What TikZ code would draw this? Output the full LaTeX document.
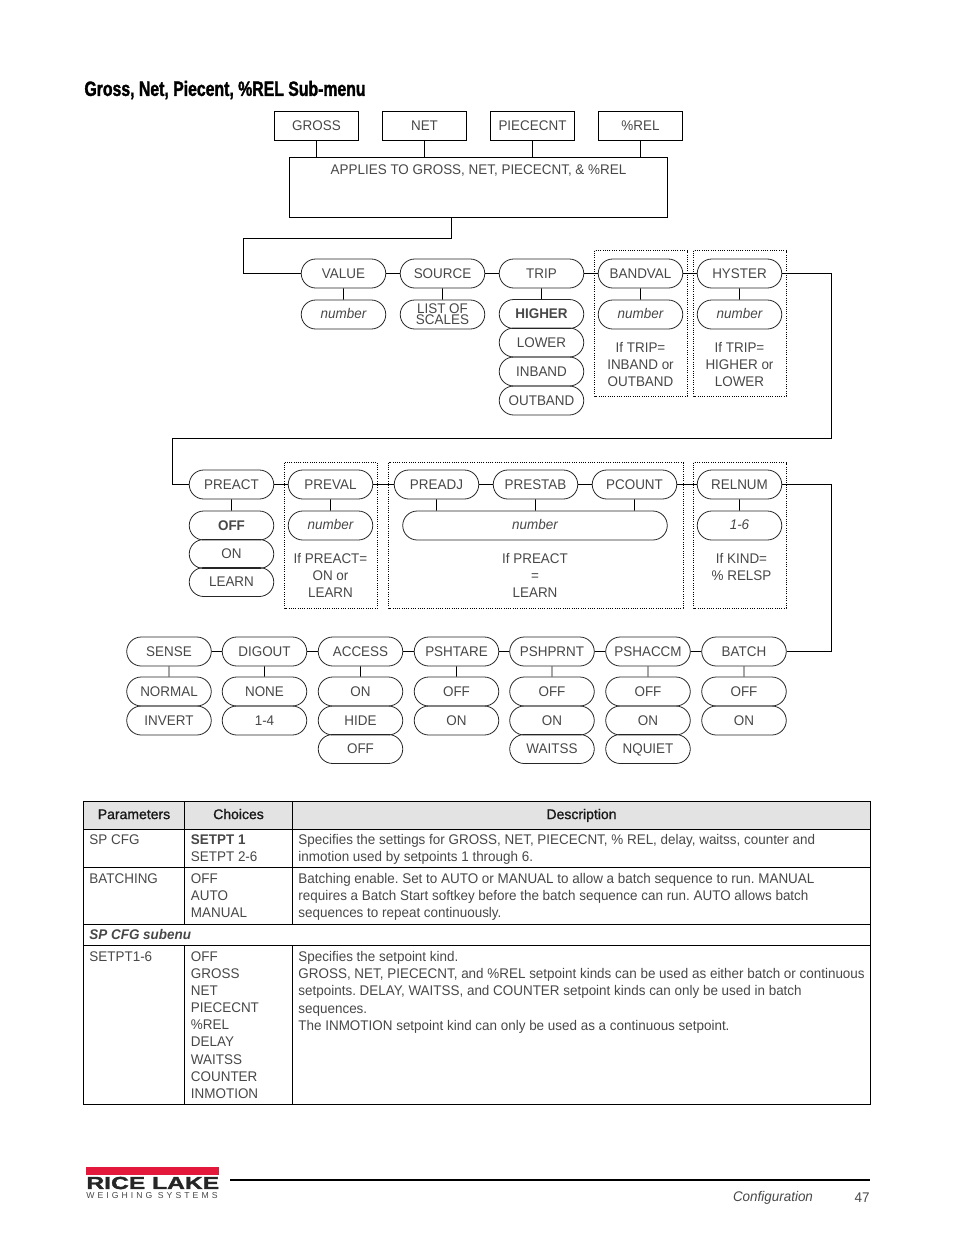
\documentclass[tikz,border=0pt]{standalone}
\usepackage{xcolor}
\usepackage{fontspec}
\setmainfont[FakeStretch=0.96]{Liberation Sans}
\newfontfamily\headfont[FakeStretch=0.765,FakeBold=1.6]{Liberation Sans}
\newfontfamily\logofont[FakeStretch=1.42,FakeBold=2]{Liberation Sans}
\newfontfamily\logosub[LetterSpace=35]{Liberation Sans}
\newfontfamily\medfont[FakeStretch=1.0,FakeBold=1.2]{Liberation Sans}
\usetikzlibrary{shapes.misc,positioning,calc}
\definecolor{ink}{gray}{0.28}
\definecolor{headgray}{gray}{0.89}
\definecolor{logored}{HTML}{E4183A}
\newcommand{\txt}{\fontsize{10.5}{12.85}\selectfont\frenchspacing}

\begin{document}
\begin{tikzpicture}[x=0.75pt,y=-0.75pt,line width=0.7pt,
v/.style={rounded rectangle,draw=black!85,line width=0.6pt,minimum width=63.4pt,minimum height=21.75pt,inner sep=0pt,text height=7.6pt,text depth=0pt,font=\txt,text=ink},
num/.style={v,font=\txt\itshape,text height=6.4pt},
b/.style={rectangle,draw,minimum width=63pt,minimum height=21.75pt,inner sep=0pt,text height=7.6pt,text depth=0pt,font=\txt,text=ink},
dotbox/.style={densely dotted,line width=0.7pt},
note/.style={align=center,inner sep=0pt,font=\txt,text=ink},
cell/.style={anchor=north west,align=left,inner sep=0pt,font=\txt,text=ink},
head/.style={inner sep=0pt,text height=7.6pt,text depth=0pt,font=\txt\medfont,text=black!90}]
\useasboundingbox (0,0) rectangle (954,1235);
\node[anchor=west,inner sep=0pt,font=\fontsize{15.5}{18}\selectfont\headfont\bfseries] (title) at (84,90) {Gross, Net, Piecent, \%REL Sub-menu};
% top row
\node[b] (gross) at (316.5,125.5) {GROSS};
\node[b] (net) at (424.5,125.5) {NET};
\node[b] (piece) at (532.5,125.5) {PIECECNT};
\node[b] (rel) at (640.5,125.5) {\%REL};
\node[rectangle,draw,minimum width=283.5pt,minimum height=45pt,inner sep=0pt] (applies) at (478.5,187) {};
\node[note] (appliest) at (478.5,171) {APPLIES TO GROSS, NET, PIECECNT, \& \%REL};
\draw (gross)--(gross|-applies.north); \draw (net)--(net|-applies.north); \draw (piece)--(piece|-applies.north); \draw (rel)--(rel|-applies.north);
% first row
\node[v] (value) at (343.5,273.5) {VALUE};
\node[v] (source) at (442.5,273.5) {SOURCE};
\node[v] (trip) at (541.5,273.5) {TRIP};
\node[v] (bandval) at (640.5,273.5) {BANDVAL};
\node[v] (hyster) at (739.5,273.5) {HYSTER};
\node[num] (valuea) at (343.5,314.5) {number};
\node[v,font=\fontsize{10.5}{6}\selectfont,align=center,text height=,text depth=] (sourcea) at (442.5,314.5) {LIST OF\\SCALES};
\node[v,font=\txt\bfseries,text height=6.8pt] (tripa) at (541.5,314) {HIGHER};
\node[v] (tripb) at (541.5,342.5) {LOWER};
\node[v] (tripc) at (541.5,371.5) {INBAND};
\node[v] (tripd) at (541.5,400.5) {OUTBAND};
\node[num] (bandvala) at (640.5,314.5) {number};
\node[num] (hystera) at (739.5,314.5) {number};
\node[note] (bandnote) at (640.5,364.5) {If TRIP=\\INBAND or\\OUTBAND};
\node[note] (hystnote) at (739.5,364.5) {If TRIP=\\HIGHER or\\LOWER};
\draw[dotbox] (594.5,250.5) rectangle (687,396);
\draw[dotbox] (693.5,250.5) rectangle (786,396);
\coordinate (a0) at (451.5,217); \coordinate (a1) at (243.5,238.5);
\draw (a0)|-(a1)|-(value.west);
\draw (value)--(source); \draw (source)--(trip); \draw (trip)--(bandval); \draw (bandval)--(hyster);
\draw (value)--(valuea); \draw (source)--(sourcea); \draw (trip)--(tripa); \draw (bandval)--(bandvala); \draw (hyster)--(hystera);
% second row
\node[v] (preact) at (231.5,484.5) {PREACT};
\node[v] (preval) at (330.5,484.5) {PREVAL};
\node[v] (preadj) at (436.5,484.5) {PREADJ};
\node[v] (prestab) at (535.5,484.5) {PRESTAB};
\node[v] (pcount) at (634.5,484.5) {PCOUNT};
\node[v] (relnum) at (739.5,484.5) {RELNUM};
\node[v,font=\txt\bfseries] (preacta) at (231.5,525.5) {OFF};
\node[v,text height=6.8pt] (preactb) at (231.5,554) {ON};
\node[v,text height=6.8pt] (preactc) at (231.5,582) {LEARN};
\node[num] (prevala) at (330.5,525.5) {number};
\node[num,minimum width=198.4pt] (prenum) at (535,525.5) {number};
\node[num] (relnuma) at (739.5,525.5) {1-6};
\node[note] (prevnote) at (330.5,575.5) {If PREACT=\\ON or\\LEARN};
\node[note] (adjnote) at (535,575.5) {If PREACT\\=\\LEARN};
\node[note] (relnote) at (741.5,567) {If KIND=\\\% RELSP};
\draw[dotbox] (284.5,462.5) rectangle (377.5,608);
\draw[dotbox] (388.5,462.5) rectangle (683,608);
\draw[dotbox] (693.5,462.5) rectangle (786,608);
\coordinate (c1) at (831.5,438.5); \coordinate (c2) at (172.5,438.5);
\draw (hyster.east)-|(c1)--(c2)|-(preact.west);
\draw (preact)--(preval); \draw (preval)--(preadj); \draw (preadj)--(prestab); \draw (prestab)--(pcount); \draw (pcount)--(relnum);
\draw (preact)--(preacta); \draw (preval)--(prevala); \draw (relnum)--(relnuma);
\draw (preadj)--(preadj|-prenum.north); \draw (prestab)--(prestab|-prenum.north); \draw (pcount)--(pcount|-prenum.north);
% third row
\node[v] (sense) at (169,651.5) {SENSE};
\node[v] (digout) at (264.5,651.5) {DIGOUT};
\node[v] (access) at (360.5,651.5) {ACCESS};
\node[v] (pshtare) at (456.5,651.5) {PSHTARE};
\node[v] (pshprnt) at (552,651.5) {PSHPRNT};
\node[v] (pshaccm) at (648,651.5) {PSHACCM};
\node[v] (batch) at (744,651.5) {BATCH};
\node[v] (sensea) at (169,691.5) {NORMAL};
\node[v] (senseb) at (169,720.5) {INVERT};
\node[v] (digouta) at (264.5,691.5) {NONE};
\node[v] (digoutb) at (264.5,720.5) {1-4};
\node[v] (accessa) at (360.5,691.5) {ON};
\node[v] (accessb) at (360.5,720.5) {HIDE};
\node[v,text height=6.8pt] (accessc) at (360.5,749) {OFF};
\node[v] (pshtarea) at (456.5,691.5) {OFF};
\node[v] (pshtareb) at (456.5,720.5) {ON};
\node[v] (pshprnta) at (552,691.5) {OFF};
\node[v] (pshprntb) at (552,720.5) {ON};
\node[v,text height=6.8pt] (pshprntc) at (552,749) {WAITSS};
\node[v] (pshaccma) at (648,691.5) {OFF};
\node[v] (pshaccmb) at (648,720.5) {ON};
\node[v,text height=6.8pt] (pshaccmc) at (648,749) {NQUIET};
\node[v] (batcha) at (744,691.5) {OFF};
\node[v] (batchb) at (744,720.5) {ON};
\coordinate (d1) at (831.5,484.5);
\draw (relnum.east)--(d1)|-(batch.east);
\draw (sense)--(digout); \draw (digout)--(access); \draw (access)--(pshtare); \draw (pshtare)--(pshprnt); \draw (pshprnt)--(pshaccm); \draw (pshaccm)--(batch);
\draw (sense)--(sensea); \draw (digout)--(digouta); \draw (access)--(accessa); \draw (pshtare)--(pshtarea); \draw (pshprnt)--(pshprnta); \draw (pshaccm)--(pshaccma); \draw (batch)--(batcha);
% table
\fill[headgray] (83.5,801) rectangle (870.5,829);
\draw (83.5,801) rectangle (870.5,1104.5);
\draw (83.5,829)--(870.5,829); \draw (83.5,867.5)--(870.5,867.5); \draw (83.5,924.5)--(870.5,924.5); \draw (83.5,945.5)--(870.5,945.5);
\draw (184.5,801)--(184.5,924.5); \draw (292.5,801)--(292.5,924.5); \draw (184.5,945.5)--(184.5,1104.5); \draw (292.5,945.5)--(292.5,1104.5);
\node[head] (hpar) at (134,814) {Parameters};
\node[head] (hcho) at (238.5,814) {Choices};
\node[head] (hdes) at (581.5,814) {Description};
\node[cell] (p1) at (89,834) {SP CFG};
\node[cell] (c1t) at (190.5,834) {\textbf{SETPT 1}\\SETPT 2-6};
\node[cell] (d1t) at (298,834) {Specifies the settings for GROSS, NET, PIECECNT, \% REL, delay, waitss, counter and\\inmotion used by setpoints 1 through 6.};
\node[cell] (p2) at (89,873) {BATCHING};
\node[cell] (c2t) at (190.5,873) {OFF\\AUTO\\MANUAL};
\node[cell] (d2t) at (298,873) {Batching enable. Set to AUTO or MANUAL to allow a batch sequence to run. MANUAL\\requires a Batch Start softkey before the batch sequence can run. AUTO allows batch\\sequences to repeat continuously.};
\node[cell,font=\txt\itshape\bfseries] (sub) at (89,929) {SP CFG subenu};
\node[cell] (p3) at (89,951) {SETPT1-6};
\node[cell] (c3t) at (190.5,951) {OFF\\GROSS\\NET\\PIECECNT\\\%REL\\DELAY\\WAITSS\\COUNTER\\INMOTION};
\node[cell] (d3t) at (298,951) {Specifies the setpoint kind.\\GROSS, NET, PIECECNT, and \%REL setpoint kinds can be used as either batch or continuous\\setpoints. DELAY, WAITSS, and COUNTER setpoint kinds can only be used in batch\\sequences.\\The INMOTION setpoint kind can only be used as a continuous setpoint.};
% footer
\fill[logored] (86,1167) rectangle (219,1175);
\node[anchor=west,inner sep=0pt,font=\fontsize{13}{14}\selectfont\logofont\bfseries,text=black!85] (logo) at (86,1183) {RICE LAKE};
\node[anchor=west,inner sep=0pt,font=\fontsize{6.5}{7}\selectfont\logosub,text=ink] (logob) at (86,1196) {WEIGHING SYSTEMS};
\draw[line width=1.5pt] (230,1180)--(870,1180);
\node[inner sep=0pt,font=\txt\itshape,text=ink] (conf) at (773,1198) {Configuration};
\node[inner sep=0pt,font=\txt,text=ink] (pg) at (862,1198) {47};
\end{tikzpicture}
\end{document}
